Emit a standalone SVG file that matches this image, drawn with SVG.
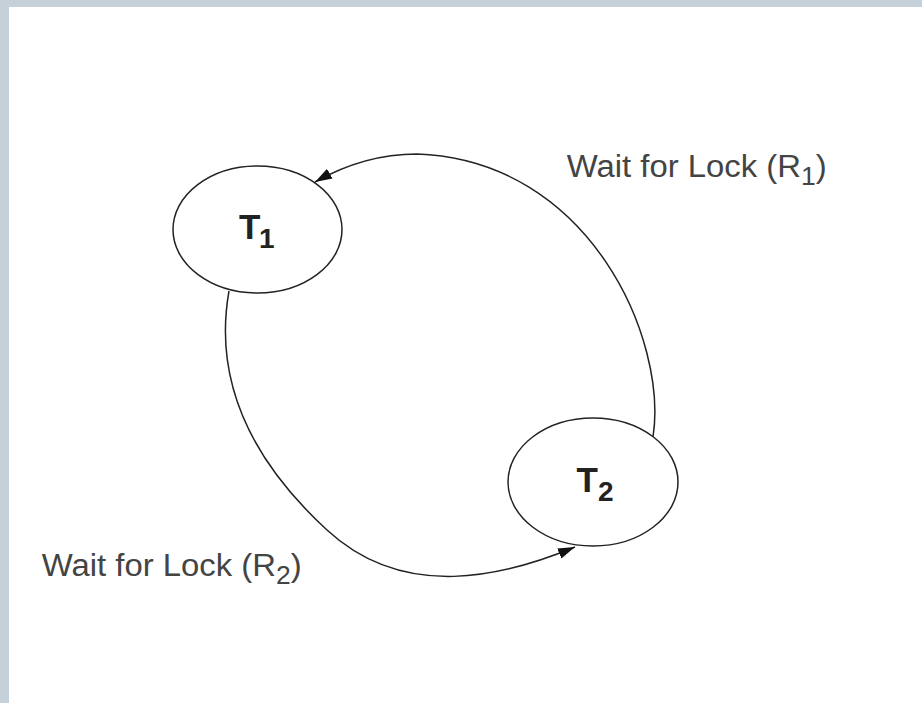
<svg xmlns="http://www.w3.org/2000/svg" width="922" height="703" viewBox="0 0 922 703">
  <style>
    .node ellipse { fill: #ffffff; stroke: #222222; stroke-width: 1.5; }
    .nlabel { font-family: "Liberation Sans", Arial, sans-serif; font-weight: bold; fill: #222222; }
    .elabel { font-family: "Liberation Sans", Arial, sans-serif; fill: #444444; }
    .edge { fill: none; stroke: #222222; stroke-width: 1.5; }
  </style>
  <defs>
    <marker id="arrow" markerUnits="userSpaceOnUse" markerWidth="18" markerHeight="13" refX="17" refY="6.5" orient="auto">
      <path d="M0,1 L17,6.5 L0,12 z" fill="#111111"/>
    </marker>
  </defs>
  <rect x="0" y="0" width="922" height="703" fill="#ffffff"/>
  <rect x="0" y="0" width="922" height="7" fill="#c5d0d8"/>
  <rect x="0" y="0" width="9" height="703" fill="#c5d0d8"/>

  <g id="connectors">
    <path id="edge-t2-t1" class="edge" d="M 653 437 C 668 340, 590 160, 417 154 C 380 154, 345 165, 315 182" marker-end="url(#arrow)"/>
    <path id="edge-t1-t2" class="edge" d="M 229 291 C 215 370, 240 450, 327 530 C 405 602, 505 576, 575 547" marker-end="url(#arrow)"/>
    <text class="elabel" font-size="31" transform="translate(566.7,176.7) scale(1.06,1)">Wait for Lock (R<tspan font-size="25" dy="8.3">1</tspan><tspan dy="-8.3">)</tspan></text>
    <text class="elabel" font-size="31" transform="translate(41.7,575.7) scale(1.06,1)">Wait for Lock (R<tspan font-size="25" dy="8.3">2</tspan><tspan dy="-8.3">)</tspan></text>
  </g>

  <g id="T1" class="node">
    <ellipse cx="257.5" cy="229.5" rx="84.5" ry="63.5"/>
    <text class="nlabel" font-size="35" x="239" y="239">T<tspan font-size="28" x="259" y="248">1</tspan></text>
  </g>

  <g id="T2" class="node">
    <ellipse cx="593" cy="482" rx="85" ry="64"/>
    <text class="nlabel" font-size="35" x="576.5" y="492">T<tspan font-size="28" x="598" y="501">2</tspan></text>
  </g>
</svg>
